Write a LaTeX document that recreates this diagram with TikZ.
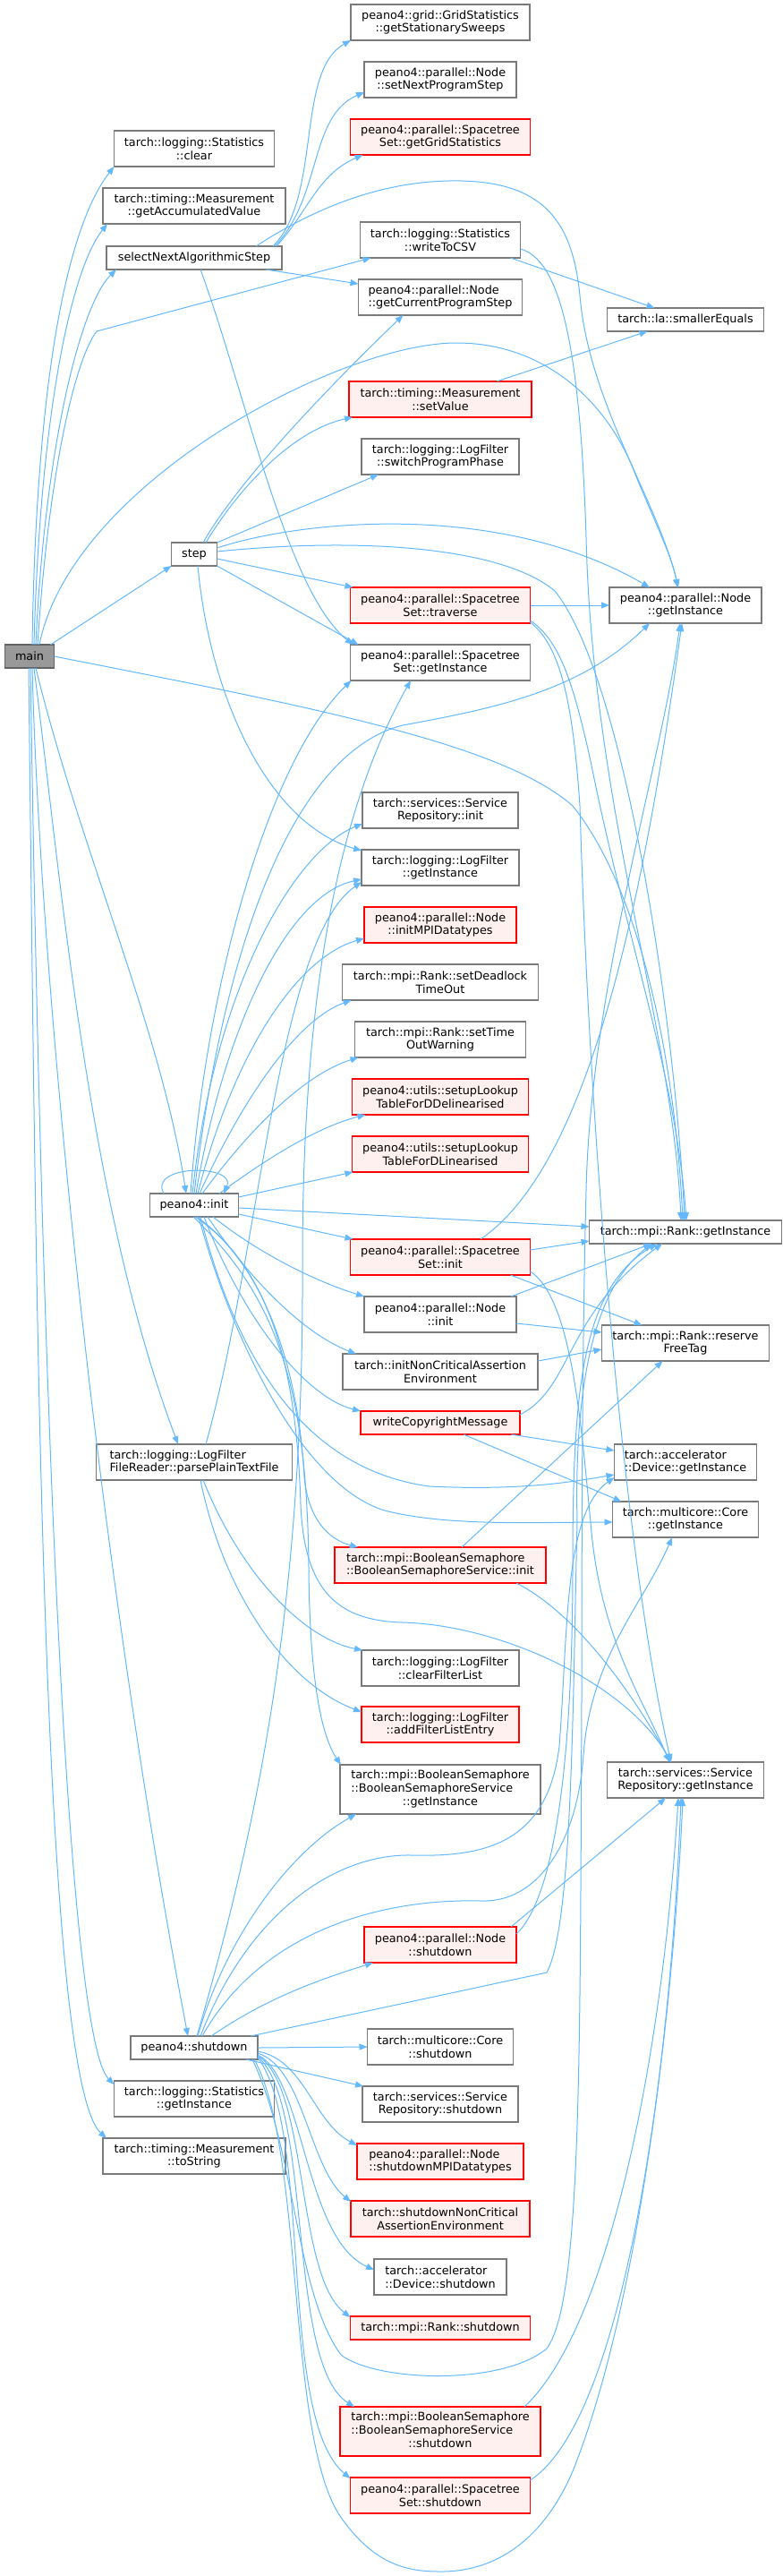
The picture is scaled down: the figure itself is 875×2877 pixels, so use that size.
\documentclass[tikz,border=0pt]{standalone}
\usepackage{fontspec}
\setmainfont{DejaVu Sans}
\usetikzlibrary{arrows.meta,calc}
\definecolor{edgeblue}{HTML}{63B8FF}
\definecolor{nodegray}{HTML}{7A7A7A}
\definecolor{maingray}{HTML}{999999}
\definecolor{redfill}{HTML}{FFF0F0}
\newcommand\nodefont{\fontsize{12.8}{14.7}\selectfont}
\tikzset{
  fn/.style={draw=nodegray, line width=1.1pt, fill=white, rectangle, inner sep=0pt, outer sep=0pt, font=\nodefont, align=center, minimum height=40pt, text=black},
  fnl/.style={fn, align=left},
  tr/.style={fn, draw=red, fill=redfill},
  trl/.style={tr, align=left},
  one/.style={minimum height=26pt},
  three/.style={minimum height=55pt},
  e/.style={draw=edgeblue, line width=1pt, -{Triangle[length=9pt,width=7pt]}},
}
\begin{document}
\begin{tikzpicture}[x=1pt,y=-1pt]
\useasboundingbox (0,0) rectangle (875,2877);
% ---------- rank 0
\node[fn, one, minimum width=55pt, fill=maingray, draw=nodegray!80!black] (main) at (33,733) {main};
% ---------- rank 1
\node[fn, minimum width=179pt] (statClear) at (217,166) {tarch::logging::Statistics\\::clear};
\node[fn, minimum width=204pt] (getAccum) at (217,230) {tarch::timing::Measurement\\::getAccumulatedValue};
\node[fn, one, minimum width=196pt] (selectNext) at (217,288) {selectNextAlgorithmicStep};
\node[fn, one, minimum width=51pt] (step) at (217,619) {step};
\node[fn, one, minimum width=99pt] (p4init) at (217,1346) {peano4::init};
\node[fnl, minimum width=219pt] (parsePlain) at (217,1633) {tarch::logging::LogFilter\\FileReader::parsePlainTextFile};
\node[fn, one, minimum width=142pt] (p4shutdown) at (217,2287) {peano4::shutdown};
\node[fn, minimum width=179pt] (statGetInst) at (217,2344) {tarch::logging::Statistics\\::getInstance};
\node[fn, minimum width=204pt] (toString) at (217,2408) {tarch::timing::Measurement\\::toString};
% ---------- rank 2
\node[fn, minimum width=200pt] (gridStat) at (492,25) {peano4::grid::GridStatistics\\::getStationarySweeps};
\node[fn, minimum width=170pt] (setNext) at (492,89) {peano4::parallel::Node\\::setNextProgramStep};
\node[tr, minimum width=201pt] (getGridStat) at (492,153) {peano4::parallel::Spacetree\\Set::getGridStatistics};
\node[fn, minimum width=179pt] (writeCSV) at (492,268) {tarch::logging::Statistics\\::writeToCSV};
\node[fnl, minimum width=183pt] (getCurProg) at (492,332) {peano4::parallel::Node\\::getCurrentProgramStep};
\node[tr, minimum width=204pt] (setValue) at (492,446) {tarch::timing::Measurement\\::setValue};
\node[fn, minimum width=176pt] (switchPhase) at (492,510) {tarch::logging::LogFilter\\::switchProgramPhase};
\node[tr, minimum width=201pt] (traverse) at (492,676) {peano4::parallel::Spacetree\\Set::traverse};
\node[fn, minimum width=201pt] (stsGetInst) at (492,740) {peano4::parallel::Spacetree\\Set::getInstance};
\node[fn, minimum width=174pt] (srvInit) at (492,905) {tarch::services::Service\\Repository::init};
\node[fn, minimum width=176pt] (lfGetInst) at (492,969) {tarch::logging::LogFilter\\::getInstance};
\node[tr, minimum width=170pt] (initMPI) at (492,1033) {peano4::parallel::Node\\::initMPIDatatypes};
\node[fn, minimum width=219pt] (setDeadlock) at (492,1097) {tarch::mpi::Rank::setDeadlock\\TimeOut};
\node[fn, minimum width=191pt] (setTimeOut) at (492,1161) {tarch::mpi::Rank::setTime\\OutWarning};
\node[tr, minimum width=197pt] (setupDelin) at (492,1225) {peano4::utils::setupLookup\\TableForDDelinearised};
\node[tr, minimum width=197pt] (setupLin) at (492,1289) {peano4::utils::setupLookup\\TableForDLinearised};
\node[tr, minimum width=201pt] (stsInit) at (492,1404) {peano4::parallel::Spacetree\\Set::init};
\node[fn, minimum width=170pt] (nodeInit) at (492,1468) {peano4::parallel::Node\\::init};
\node[fn, minimum width=218pt] (initNonCrit) at (492,1532) {tarch::initNonCriticalAssertion\\Environment};
\node[tr, one, minimum width=178pt] (copyright) at (492,1589) {writeCopyrightMessage};
\node[trl, minimum width=236pt] (bsInit) at (492,1748) {tarch::mpi::BooleanSemaphore\\::BooleanSemaphoreService::init};
\node[fn, minimum width=176pt] (clearFilter) at (492,1863) {tarch::logging::LogFilter\\::clearFilterList};
\node[tr, minimum width=176pt] (addFilter) at (492,1926) {tarch::logging::LogFilter\\::addFilterListEntry};
\node[fn, three, minimum width=224pt] (bsGetInst) at (492,1998.5) {\begin{tabular}{@{}l@{}}tarch::mpi::BooleanSemaphore\\::BooleanSemaphoreService\\\multicolumn{1}{@{}c@{}}{::getInstance}\end{tabular}};
\node[tr, minimum width=170pt] (nodeShutdown) at (492,2172) {peano4::parallel::Node\\::shutdown};
\node[fn, minimum width=163pt] (coreShutdown) at (492,2286) {tarch::multicore::Core\\::shutdown};
\node[fn, minimum width=174pt] (srvShutdown) at (492,2350) {tarch::services::Service\\Repository::shutdown};
\node[trl, minimum width=186pt] (shutdownMPI) at (492,2414) {peano4::parallel::Node\\::shutdownMPIDatatypes};
\node[tr, minimum width=200pt] (shutdownNonCrit) at (492,2478) {tarch::shutdownNonCritical\\AssertionEnvironment};
\node[fnl, minimum width=148pt] (devShutdown) at (492,2543) {tarch::accelerator\\::Device::shutdown};
\node[tr, one, minimum width=201pt] (rankShutdown) at (492,2600) {tarch::mpi::Rank::shutdown};
\node[tr, three, minimum width=224pt] (bsShutdown) at (492,2715.5) {\begin{tabular}{@{}l@{}}tarch::mpi::BooleanSemaphore\\::BooleanSemaphoreService\\\multicolumn{1}{@{}c@{}}{::shutdown}\end{tabular}};
\node[tr, minimum width=201pt] (stsShutdown) at (492,2787) {peano4::parallel::Spacetree\\Set::shutdown};
% ---------- rank 3
\node[fn, one, minimum width=175pt] (smallerEq) at (766,357) {tarch::la::smallerEquals};
\node[fn, minimum width=170pt] (nodeGetInst) at (766,676) {peano4::parallel::Node\\::getInstance};
\node[fn, one, minimum width=215pt] (rankGetInst) at (766,1376) {tarch::mpi::Rank::getInstance};
\node[fn, minimum width=187pt] (reserveTag) at (766,1500) {tarch::mpi::Rank::reserve\\FreeTag};
\node[fnl, minimum width=159pt] (devGetInst) at (766,1633) {tarch::accelerator\\::Device::getInstance};
\node[fn, minimum width=163pt] (coreGetInst) at (766,1697) {tarch::multicore::Core\\::getInstance};
\node[fn, minimum width=175pt] (srvGetInst) at (766,1988) {tarch::services::Service\\Repository::getInstance};

% ================= edges
% main
\draw[e] ($(main.north)+(3,0)$) .. controls (40,450) and (70,260) .. (statClear.south west);
\draw[e] ($(main.north)+(5,0)$) .. controls (45,460) and (80,300) .. ($(getAccum.south west)+(5,0)$);
\draw[e] ($(main.north)+(7,0)$) .. controls (50,500) and (90,340) .. ($(selectNext.south west)+(11,0)$);
\draw[e] ($(main.north)+(9,0)$) .. controls (55,520) and (85,400) .. (108,370) -- ($(writeCSV.south west)+(12,0)$);
\draw[e] ($(main.north)+(11,0)$) .. controls (80,540) and (380,383) .. (510,383) .. controls (610,383) and (680,450) .. (710,530) .. controls (735,590) and (752,625) .. ($(nodeGetInst.north)+(-9,0)$);
\draw[e] ($(main.north east)+(-4,0)$) -- (step.south west);
\draw[e] (main.east) .. controls (350,790) and (560,830) .. (640,900) .. controls (720,1000) and (755,1200) .. ($(rankGetInst.north)+(-3,0)$);
\draw[e] ($(main.south)+(7,0)$) .. controls (90,950) and (180,1150) .. ($(p4init.north)+(-9,0)$);
\draw[e] ($(main.south)+(5,0)$) .. controls (70,1000) and (100,1350) .. ($(parsePlain.north)+(-18,0)$);
\draw[e] ($(main.south)+(3,0)$) .. controls (45,1100) and (110,1750) .. ($(p4shutdown.north)+(-7,0)$);
\draw[e] ($(main.south)+(1,0)$) .. controls (44,1400) and (70,2270) .. ($(statGetInst.north west)+(0,4)$);
\draw[e] ($(main.south)+(-1,0)$) .. controls (40,1400) and (45,2320) .. ($(toString.north west)+(4,0)$);
% selectNext
\draw[e] ($(selectNext.north east)+(-10,0)$) .. controls (360,220) and (330,80) .. (gridStat.south west);
\draw[e] ($(selectNext.north east)+(-8,0)$) .. controls (360,220) and (345,130) .. ($(setNext.south west)+(0,-6)$);
\draw[e] ($(selectNext.north east)+(-6,0)$) .. controls (345,235) and (355,195) .. ($(getGridStat.south west)+(14,0)$);
\draw[e] ($(selectNext.north east)+(-29,0)$) .. controls (340,240) and (420,200) .. (515,202) .. controls (610,204) and (640,250) .. (648,330) .. controls (658,450) and (735,560) .. ($(nodeGetInst.north)+(-8,0)$);
\draw[e] ($(selectNext.south east)+(-18,0)$) -- ($(getCurProg.west)+(0,-15)$);
\draw[e] ($(selectNext.south)+(7,0)$) .. controls (275,440) and (320,660) .. ($(stsGetInst.north west)+(3,0)$);
% writeCSV, setValue
\draw[e] ($(writeCSV.south east)+(-11,0)$) -- ($(smallerEq.north west)+(53,0)$);
\draw[e] ($(writeCSV.east)+(0,10)$) .. controls (625,290) and (648,380) .. (655,600) .. controls (662,900) and (752,1150) .. ($(rankGetInst.north)+(-5,0)$);
\draw[e] ($(setValue.north east)+(-39,0)$) -- ($(smallerEq.south west)+(45,0)$);
% step
\draw[e] ($(step.north)+(10,0)$) .. controls (270,530) and (390,410) .. ($(getCurProg.south west)+(50,0)$);
\draw[e] ($(step.north)+(13,0)$) .. controls (270,540) and (330,480) .. ($(setValue.south west)+(4,0)$);
\draw[e] (step.north east) -- ($(switchPhase.south west)+(19,0)$);
\draw[e] ($(step.east)+(0,-7)$) .. controls (340,580) and (560,560) .. ($(nodeGetInst.north west)+(45,0)$);
\draw[e] ($(step.east)+(0,-3)$) .. controls (400,600) and (560,610) .. (620,660) .. controls (700,760) and (755,1150) .. ($(rankGetInst.north)+(-1,0)$);
\draw[e] ($(step.east)+(0,5)$) -- ($(traverse.north west)+(3,0)$);
\draw[e] (step.south east) -- ($(stsGetInst.north west)+(9,0)$);
\draw[e] ($(step.south)+(4,0)$) .. controls (235,780) and (300,920) .. ($(lfGetInst.west)+(0,-19)$);
% traverse
\draw[e] (traverse.east) -- (nodeGetInst.west);
\draw[e] ($(traverse.east)+(0,17)$) .. controls (625,715) and (640,760) .. (660,850) .. controls (700,1050) and (755,1200) .. ($(rankGetInst.north)+(1,0)$);
\draw[e] ($(traverse.east)+(0,19)$) .. controls (625,720) and (640,780) .. (648,900) .. controls (660,1300) and (700,1750) .. ($(srvGetInst.north)+(-16,0)$);
% p4init
\draw[e] ($(p4init.north)+(-34,0)$) .. controls (165,1300) and (265,1300) .. ($(p4init.north)+(33,0)$);
\draw[e] ($(p4init.north)+(-4,0)$) .. controls (230,1100) and (300,850) .. ($(stsGetInst.south west)+(1,0)$);
\draw[e] ($(p4init.north)+(-2,0)$) .. controls (240,1100) and (330,950) .. ($(srvInit.west)+(0,15)$);
\draw[e] (p4init.north) .. controls (250,1050) and (330,840) .. (450,810) .. controls (560,790) and (650,770) .. ($(nodeGetInst.south west)+(45,0)$);
\draw[e] ($(p4init.north)+(2,0)$) .. controls (250,1150) and (320,1000) .. ($(lfGetInst.west)+(0,13)$);
\draw[e] ($(p4init.north)+(4,0)$) .. controls (260,1180) and (330,1070) .. ($(initMPI.west)+(0,15)$);
\draw[e] ($(p4init.north)+(6,0)$) .. controls (270,1230) and (330,1140) .. ($(setDeadlock.south west)+(10,0)$);
\draw[e] ($(p4init.north)+(9,0)$) .. controls (280,1260) and (340,1200) .. ($(setTimeOut.south west)+(4,0)$);
\draw[e] ($(p4init.north)+(28,0)$) .. controls (290,1300) and (350,1260) .. ($(setupDelin.south west)+(15,0)$);
\draw[e] ($(p4init.east)+(0,-9)$) -- ($(setupLin.south west)+(1,0)$);
\draw[e] ($(p4init.east)+(0,3)$) -- ($(rankGetInst.west)+(0,-6)$);
\draw[e] ($(p4init.east)+(0,10)$) -- ($(stsInit.north west)+(3,0)$);
\draw[e] ($(p4init.south)+(21,0)$) .. controls (290,1400) and (350,1430) .. (nodeInit.north west);
\draw[e] ($(p4init.south)+(15,0)$) .. controls (280,1430) and (340,1490) .. ($(initNonCrit.north west)+(15,0)$);
\draw[e] ($(p4init.south)+(11,0)$) .. controls (270,1470) and (340,1560) .. (copyright.north west);
\draw[e] ($(p4init.south)+(7,0)$) .. controls (260,1500) and (330,1640) .. (480,1660) .. controls (580,1665) and (640,1655) .. ($(devGetInst.west)+(0,14)$);
\draw[e] ($(p4init.south)+(5,0)$) .. controls (260,1500) and (340,1660) .. (430,1687) .. controls (500,1705) and (600,1700) .. ($(coreGetInst.west)+(0,3)$);
\draw[e] ($(p4init.south)+(3,0)$) .. controls (305,1420) and (335,1550) .. (340,1650) .. controls (345,1700) and (370,1720) .. ($(bsInit.north west)+(26,0)$);
\draw[e] ($(p4init.south)+(1,0)$) .. controls (310,1420) and (332,1550) .. (336,1680) .. controls (340,1780) and (380,1810) .. (450,1812) .. controls (560,1815) and (700,1880) .. ($(srvGetInst.north)+(-16,0)$);
\draw[e] ($(p4init.south)+(-1,0)$) .. controls (310,1450) and (343,1550) .. (345,1750) .. controls (346,1880) and (360,1940) .. ($(bsGetInst.north west)+(1,0)$);
% parsePlain
\draw[e] ($(parsePlain.north)+(13,0)$) .. controls (290,1400) and (310,1050) .. ($(lfGetInst.south west)+(0,-4)$);
\draw[e] ($(parsePlain.south)+(10,0)$) .. controls (270,1760) and (340,1830) .. ($(clearFilter.north west)+(1,0)$);
\draw[e] ($(parsePlain.south)+(7,0)$) .. controls (250,1780) and (320,1880) .. ($(addFilter.west)+(0,-14)$);
% p4shutdown
\draw[e] ($(p4shutdown.north)+(3,0)$) .. controls (300,2000) and (340,1750) .. (338,1400) .. controls (339,1100) and (380,900) .. ($(stsGetInst.south)+(-33,0)$);
\draw[e] ($(p4shutdown.north)+(4,0)$) .. controls (250,2170) and (320,2070) .. ($(bsGetInst.south west)+(18,0)$);
\draw[e] ($(p4shutdown.north)+(7,0)$) .. controls (280,2130) and (380,2070) .. (460,2072) .. controls (540,2074) and (612,2060) .. (625,1950) .. controls (635,1820) and (630,1690) .. ($(devGetInst.south west)+(0,-3)$);
\draw[e] ($(p4shutdown.north)+(9,0)$) .. controls (290,2160) and (420,2120) .. (538,2123) .. controls (600,2125) and (645,2060) .. (652,1960) .. controls (660,1850) and (720,1790) .. ($(coreGetInst.south)+(-15,0)$);
\draw[e] ($(p4shutdown.north)+(19,0)$) .. controls (300,2230) and (360,2210) .. ($(nodeShutdown.south west)+(10,0)$);
\draw[e] ($(p4shutdown.north east)+(-8,0)$) -- (611,2203) .. controls (640,2150) and (640,1900) .. (645,1700) .. controls (640,1480) and (690,1420) .. ($(rankGetInst.south)+(-38,0)$);
\draw[e] (p4shutdown.east) -- (coreShutdown.west);
\draw[e] ($(p4shutdown.south east)+(-13,0)$) -- ($(srvShutdown.north west)+(1,0)$);
\draw[e] ($(p4shutdown.east)+(0,4)$) .. controls (340,2300) and (350,2370) .. ($(shutdownMPI.west)+(0,-18)$);
\draw[e] ($(p4shutdown.east)+(0,6)$) .. controls (340,2310) and (345,2420) .. ($(shutdownNonCrit.north west)+(0,1)$);
\draw[e] ($(p4shutdown.east)+(0,8)$) .. controls (340,2320) and (340,2500) .. ($(devShutdown.west)+(0,-8)$);
\draw[e] ($(p4shutdown.east)+(0,9)$) .. controls (345,2330) and (330,2540) .. ($(rankShutdown.north west)+(0,1)$);
\draw[e] ($(p4shutdown.east)+(0,10)$) .. controls (350,2350) and (320,2640) .. ($(bsShutdown.north west)+(16,0)$);
\draw[e] ($(p4shutdown.east)+(0,11)$) .. controls (350,2380) and (310,2700) .. ($(stsShutdown.north west)+(0,1)$);
\draw[e] ($(p4shutdown.south east)+(-4,0)$) .. controls (340,2400) and (320,2720) .. (380,2810) .. controls (420,2868) and (460,2872) .. (493,2872) .. controls (560,2872) and (610,2830) .. (640,2760) .. controls (720,2560) and (755,2200) .. ($(srvGetInst.south)+(-3,0)$);
\draw[e] ($(p4shutdown.south east)+(-6,0)$) .. controls (330,2400) and (330,2560) .. (381,2630) .. controls (420,2660) and (560,2665) .. (611,2623) .. controls (650,2570) and (648,2300) .. (650,1900) .. controls (650,1600) and (652,1450) .. (655,1330) .. controls (660,1100) and (740,850) .. ($(nodeGetInst.south)+(-6,0)$);
% stsInit
\draw[e] ($(stsInit.east)+(0,-8)$) -- ($(rankGetInst.west)+(0,10)$);
\draw[e] ($(stsInit.north)+(45,0)$) .. controls (660,1300) and (720,1000) .. ($(nodeGetInst.south)+(-4,0)$);
\draw[e] ($(stsInit.south east)+(-22,0)$) -- ($(reserveTag.north west)+(45,0)$);
\draw[e] ($(stsInit.east)+(0,16)$) .. controls (640,1450) and (650,1600) .. (660,1700) .. controls (670,1830) and (720,1900) .. ($(srvGetInst.north)+(-18,0)$);
% nodeInit, initNonCrit, copyright
\draw[e] ($(nodeInit.north east)+(-6,0)$) -- ($(rankGetInst.south)+(-38,0)$);
\draw[e] ($(nodeInit.east)+(0,10)$) -- ($(reserveTag.west)+(0,-12)$);
\draw[e] ($(initNonCrit.east)+(0,-12)$) -- ($(reserveTag.west)+(0,7)$);
\draw[e] ($(copyright.east)+(0,-9)$) .. controls (640,1550) and (630,1470) .. ($(rankGetInst.south)+(-26,0)$);
\draw[e] ($(copyright.south east)+(-10,0)$) -- ($(devGetInst.west)+(0,-13)$);
\draw[e] ($(copyright.south)+(26,0)$) -- ($(coreGetInst.north west)+(10,0)$);
% bsInit
\draw[e] ($(bsInit.north)+(24,0)$) -- ($(reserveTag.south west)+(68,0)$);
\draw[e] ($(bsInit.south east)+(-33,0)$) .. controls (640,1800) and (700,1880) .. ($(srvGetInst.north)+(-16,0)$);
% nodeShutdown
\draw[e] ($(nodeShutdown.north east)+(-6,0)$) -- ($(srvGetInst.south)+(-22,0)$);
\draw[e] ($(nodeShutdown.east)+(0,-12)$) .. controls (630,2110) and (640,1900) .. (640,1750) .. controls (640,1550) and (650,1440) .. ($(rankGetInst.south)+(-32,0)$);
% bsShutdown, stsShutdown
\draw[e] ($(bsShutdown.north east)+(-18,0)$) .. controls (680,2600) and (740,2300) .. ($(srvGetInst.south)+(-8,0)$);
\draw[e] ($(stsShutdown.east)+(0,-17)$) .. controls (700,2700) and (750,2300) .. ($(srvGetInst.south)+(-5,0)$);
\end{tikzpicture}
\end{document}
